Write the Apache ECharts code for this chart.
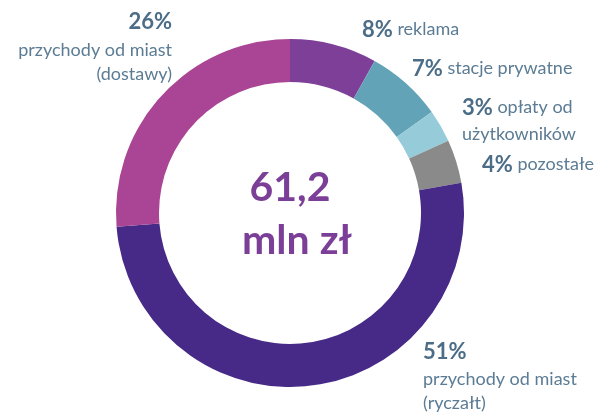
<!DOCTYPE html>
<html>
<head>
<meta charset="utf-8">
<script src="https://cdn.jsdelivr.net/npm/echarts@6/dist/echarts.min.js"></script>
<style>
  html, body { margin: 0; padding: 0; background: #fff; }
  #chart { width: 601px; height: 412px; }
</style>
</head>
<body>
<div id="chart"></div>
<script>
const names = ['reklama', 'stacje prywatne', 'opłaty od użytkowników', 'pozostałe', 'przychody od miast (ryczałt)', 'przychody od miast (dostawy)'];
const shares = [8, 7, 3, 4, 51, 26];
const colors = ['#7e3f98', '#62a3b8', '#96ccda', '#8a8a8a', '#472a87', '#aa4495'];
const total = '61,2';
const unit = 'mln zł';

const chart = echarts.init(document.getElementById('chart'));
const font = 'Lato, "Open Sans", sans-serif';
const pctStyle = { fontFamily: font, fontWeight: 'bold', fontSize: 22, fill: '#4b6d87' };
const txtStyle = { fontFamily: font, fontSize: 18, fill: '#5b7c94' };

// percent in bold, then the name on the same line (and an optional second line)
function inlineLabel(i, x, y, rest, extra) {
  return {
    type: 'text', left: x, top: y,
    style: { ...txtStyle, rich: { p: pctStyle, t: txtStyle },
      text: '{p|' + shares[i] + '%} {t|' + rest + '}' + (extra ? '\n{t|' + extra + '}' : ''),
      lineHeight: 27 }
  };
}

chart.setOption({
  animation: false,
  series: [{
    type: 'pie',
    center: [290, 213],
    radius: [131, 174],
    startAngle: 90,
    clockwise: true,
    label: { show: false },
    labelLine: { show: false },
    silent: true,
    data: names.map((n, i) => ({ name: n, value: shares[i], itemStyle: { color: colors[i] } }))
  }],
  graphic: [
    { type: 'text', x: 290, y: 188, style: { text: total, fontFamily: font, fontWeight: 'bold', fontSize: 41, fill: '#7b3f98', align: 'center', verticalAlign: 'middle' } },
    { type: 'text', x: 297, y: 241, style: { text: unit, fontFamily: font, fontWeight: 'bold', fontSize: 41, fill: '#7b3f98', align: 'center', verticalAlign: 'middle' } },
    { type: 'text', x: 172, y: 22, style: { ...pctStyle, text: shares[5] + '%', align: 'right', verticalAlign: 'middle' } },
    { type: 'text', x: 172, y: 50, style: { ...txtStyle, text: 'przychody od miast', align: 'right', verticalAlign: 'middle' } },
    { type: 'text', x: 172, y: 74, style: { ...txtStyle, text: '(dostawy)', align: 'right', verticalAlign: 'middle' } },
    inlineLabel(0, 362, 16, 'reklama'),
    inlineLabel(1, 412, 55, 'stacje prywatne'),
    inlineLabel(2, 462, 94, 'opłaty od', 'użytkowników'),
    inlineLabel(3, 482, 151, 'pozostałe'),
    { type: 'text', x: 423, y: 352, style: { ...pctStyle, text: shares[4] + '%', verticalAlign: 'middle' } },
    { type: 'text', x: 423, y: 379, style: { ...txtStyle, text: 'przychody od miast', verticalAlign: 'middle' } },
    { type: 'text', x: 423, y: 403, style: { ...txtStyle, text: '(ryczałt)', verticalAlign: 'middle' } }
  ]
});
</script>
</body>
</html>
